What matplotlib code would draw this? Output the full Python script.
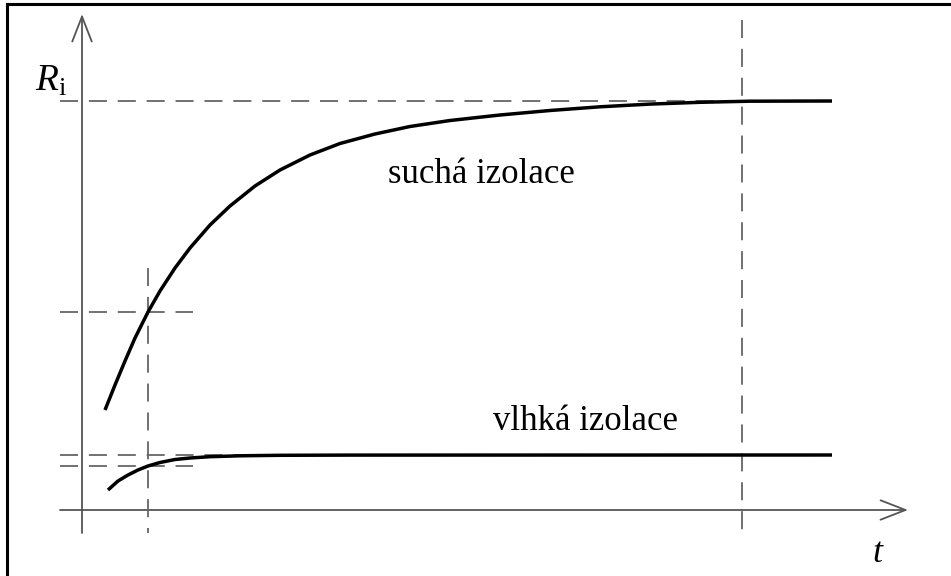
import matplotlib
matplotlib.use("Agg")
import matplotlib.pyplot as plt
from matplotlib.patches import FancyArrowPatch

plt.rcParams['mathtext.fontset'] = 'custom'
plt.rcParams['mathtext.rm'] = 'Liberation Serif'
plt.rcParams['mathtext.it'] = 'Liberation Serif:italic'
plt.rcParams['mathtext.bf'] = 'Liberation Serif:bold'

# ---- data (schematic units: t along x, R_i along y) ----
dry_t = [0.23, 0.33, 0.43, 0.53, 0.66, 0.78, 0.93, 1.08, 1.28, 1.48, 1.73,
         1.98, 2.28, 2.58, 2.93, 3.28, 3.68, 4.18, 4.68, 5.18, 5.68, 6.18,
         6.68, 7.50]
dry_R = [1.00, 1.25, 1.49, 1.72, 1.98, 2.19, 2.42, 2.62, 2.85, 3.04, 3.24,
         3.40, 3.55, 3.665, 3.76, 3.835, 3.895, 3.95, 3.995, 4.032, 4.059, 4.077,
         4.088, 4.09]

wet_t = [0.26, 0.36, 0.46, 0.56, 0.66, 0.78, 0.93, 1.08, 1.28, 1.58, 1.98, 2.68, 7.50]
wet_R = [0.20, 0.29, 0.35, 0.40, 0.44, 0.475, 0.505, 0.52, 0.533, 0.542, 0.547, 0.549, 0.55]

t_mark = 0.66          # time of reading
t_end = 6.60           # time of steady state
R_dry_end = 4.09
R_dry_mark = 1.98
R_wet_end = 0.55
R_wet_mark = 0.44

label_dry = "suchá izolace"
label_wet = "vlhká izolace"
y_label = r"$R_\mathrm{i}$"
x_label = "t"

fig = plt.figure(figsize=(9.51, 5.76), dpi=100)
ax = fig.add_axes([0, 0, 1, 1])
ax.set_xlim(-0.82, 8.69)
ax.set_ylim(-0.66, 5.10)
ax.axis('off')

axis_col = '#555555'
dash_col = '#666666'
dash_kw = dict(color=dash_col, lw=1.3, linestyle=(0, (10, 6)))

# axes with arrows
ax.add_patch(FancyArrowPatch((-0.22, 0), (8.26, 0), arrowstyle='->,head_length=0.9,head_width=0.35',
                             mutation_scale=20, color=axis_col, lw=1.3, shrinkA=0, shrinkB=0))
ax.add_patch(FancyArrowPatch((0, -0.23), (0, 4.96), arrowstyle='->,head_length=0.9,head_width=0.35',
                             mutation_scale=20, color=axis_col, lw=1.3, shrinkA=0, shrinkB=0))

# dashed guide lines
ax.plot([-0.22, 7.50], [R_dry_end, R_dry_end], **dash_kw)
ax.plot([-0.22, 1.11], [R_dry_mark, R_dry_mark], **dash_kw)
ax.plot([-0.22, t_end], [R_wet_end, R_wet_end], **dash_kw)
ax.plot([-0.22, 1.11], [R_wet_mark, R_wet_mark], **dash_kw)
ax.plot([t_mark, t_mark], [2.42, -0.23], **dash_kw)
ax.plot([t_end, t_end], [4.90, -0.23], **dash_kw)

# curves
ax.plot(dry_t, dry_R, color='black', lw=2.5, solid_capstyle='butt', solid_joinstyle='round')
ax.plot(wet_t, wet_R, color='black', lw=2.5, solid_capstyle='butt', solid_joinstyle='round')

# labels
serif = 'Liberation Serif'
ax.text(3.06, 3.27, label_dry, family=serif, fontsize=25, ha='left', va='baseline')
ax.text(4.11, 0.80, label_wet, family=serif, fontsize=25, ha='left', va='baseline')
ax.text(-0.47, 4.19, y_label, fontsize=27, ha='left', va='baseline')
ax.text(7.95, -0.52, x_label, family=serif, style='italic', fontsize=26, ha='center', va='baseline')

# frame edges (left and top)
ax.plot([0.0075, 0.0075], [0, 0.993], transform=ax.transAxes, color='black', lw=2.2)
ax.plot([0.0075, 1.0], [0.993, 0.993], transform=ax.transAxes, color='black', lw=2.2)

fig.savefig('out.png', dpi=100)
